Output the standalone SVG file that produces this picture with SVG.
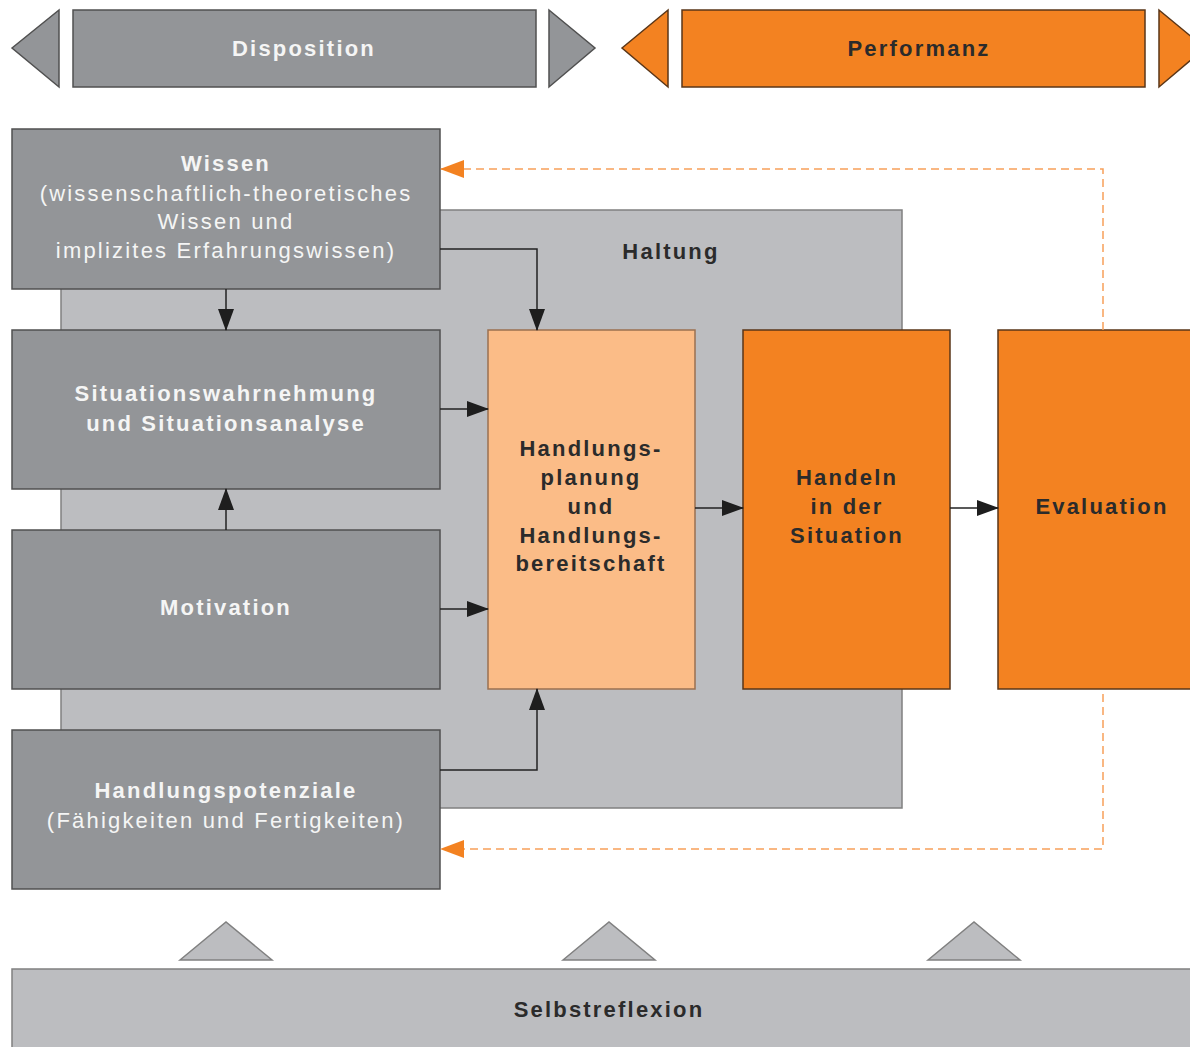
<svg xmlns="http://www.w3.org/2000/svg" width="1190" height="1047" viewBox="0 0 1190 1047">
<style>
.t{font-family:"Liberation Sans",Arial,sans-serif;font-size:22px;letter-spacing:2.2px;text-anchor:middle}
.b{font-weight:bold}
.w{fill:#f5f5f5}
.d{fill:#2b2b2b}
.gray{fill:#939598;stroke:#505050;stroke-width:1.5}
.lgray{fill:#bcbdc0;stroke:#808080;stroke-width:1.5}
.org{fill:#f38221;stroke:#5a3618;stroke-width:1.5}
.lorg{fill:#fbbc87;stroke:#9a7050;stroke-width:1.5}
.con{fill:none;stroke:#222;stroke-width:1.5}
.dash{fill:none;stroke:#f7a05a;stroke-width:1.5;stroke-dasharray:8 5}
</style>
<defs>
<marker id="ah" markerUnits="userSpaceOnUse" markerWidth="22" markerHeight="16" viewBox="0 0 22 16" refX="21" refY="8" orient="auto">
<path d="M0,0 L22,8 L0,16 Z" fill="#1e1e1e"/>
</marker>
<marker id="ao" markerUnits="userSpaceOnUse" markerWidth="24" markerHeight="18" viewBox="0 0 24 18" refX="23" refY="9" orient="auto">
<path d="M0,0 L24,9 L0,18 Z" fill="#f38221"/>
</marker>
</defs>
<rect width="1190" height="1047" fill="#ffffff"/>

<g id="disposition">
<polygon points="12,48 59,10 59,87" class="gray"/>
<rect x="73" y="10" width="463" height="77" class="gray"/>
<polygon points="549,10 549,87 595,48" class="gray"/>
<text x="304" y="56" class="t b w">Disposition</text>
</g>
<g id="performanz">
<polygon points="622,48 668,10 668,87" class="org"/>
<rect x="682" y="10" width="463" height="77" class="org"/>
<polygon points="1159,10 1159,87 1205,48" class="org"/>
<text x="919" y="56" class="t b d">Performanz</text>
</g>

<g id="haltung">
<rect x="61" y="210" width="841" height="598" class="lgray"/>
<text x="671" y="259" class="t b d">Haltung</text>
</g>

<g id="wissen">
<rect x="12" y="129" width="428" height="160" class="gray"/>
<text x="226" y="171" class="t b w">Wissen</text>
<text x="226" y="201" class="t w">(wissenschaftlich-theoretisches</text>
<text x="226" y="229" class="t w">Wissen und</text>
<text x="226" y="258" class="t w">implizites Erfahrungswissen)</text>
</g>
<g id="situation">
<rect x="12" y="330" width="428" height="159" class="gray"/>
<text x="226" y="401" class="t b w">Situationswahrnehmung</text>
<text x="226" y="431" class="t b w">und Situationsanalyse</text>
</g>
<g id="motivation">
<rect x="12" y="530" width="428" height="159" class="gray"/>
<text x="226" y="615" class="t b w">Motivation</text>
</g>
<g id="potenziale">
<rect x="12" y="730" width="428" height="159" class="gray"/>
<text x="226" y="798" class="t b w">Handlungspotenziale</text>
<text x="226" y="828" class="t w">(Fähigkeiten und Fertigkeiten)</text>
</g>
<g id="planung">
<rect x="488" y="330" width="207" height="359" class="lorg"/>
<text x="591" y="456" class="t b d">Handlungs-</text>
<text x="591" y="485" class="t b d">planung</text>
<text x="591" y="514" class="t b d">und</text>
<text x="591" y="543" class="t b d">Handlungs-</text>
<text x="591" y="571" class="t b d">bereitschaft</text>
</g>
<g id="handeln">
<rect x="743" y="330" width="207" height="359" class="org"/>
<text x="847" y="485" class="t b d">Handeln</text>
<text x="847" y="514" class="t b d">in der</text>
<text x="847" y="543" class="t b d">Situation</text>
</g>
<g id="evaluation">
<rect x="998" y="330" width="210" height="359" class="org"/>
<text x="1102" y="514" class="t b d">Evaluation</text>
</g>

<g id="selbstreflexion">
<polygon points="180,960 226,922 272,960" class="lgray"/>
<polygon points="563,960 609,922 655,960" class="lgray"/>
<polygon points="928,960 974,922 1020,960" class="lgray"/>
<rect x="12" y="969" width="1200" height="100" class="lgray"/>
<text x="609" y="1017" class="t b d">Selbstreflexion</text>
</g>

<g id="connectors">
<path d="M226,289 V330" class="con" marker-end="url(#ah)"/>
<path d="M226,530 V489" class="con" marker-end="url(#ah)"/>
<path d="M440,249 H537 V330" class="con" marker-end="url(#ah)"/>
<path d="M440,409 H488" class="con" marker-end="url(#ah)"/>
<path d="M440,609 H488" class="con" marker-end="url(#ah)"/>
<path d="M440,770 H537 V689" class="con" marker-end="url(#ah)"/>
<path d="M695,508 H743" class="con" marker-end="url(#ah)"/>
<path d="M950,508 H998" class="con" marker-end="url(#ah)"/>
<path d="M1103,330 V169 H441" class="dash" marker-end="url(#ao)"/>
<path d="M1103,694 V849 H441" class="dash" marker-end="url(#ao)"/>
</g>
</svg>
